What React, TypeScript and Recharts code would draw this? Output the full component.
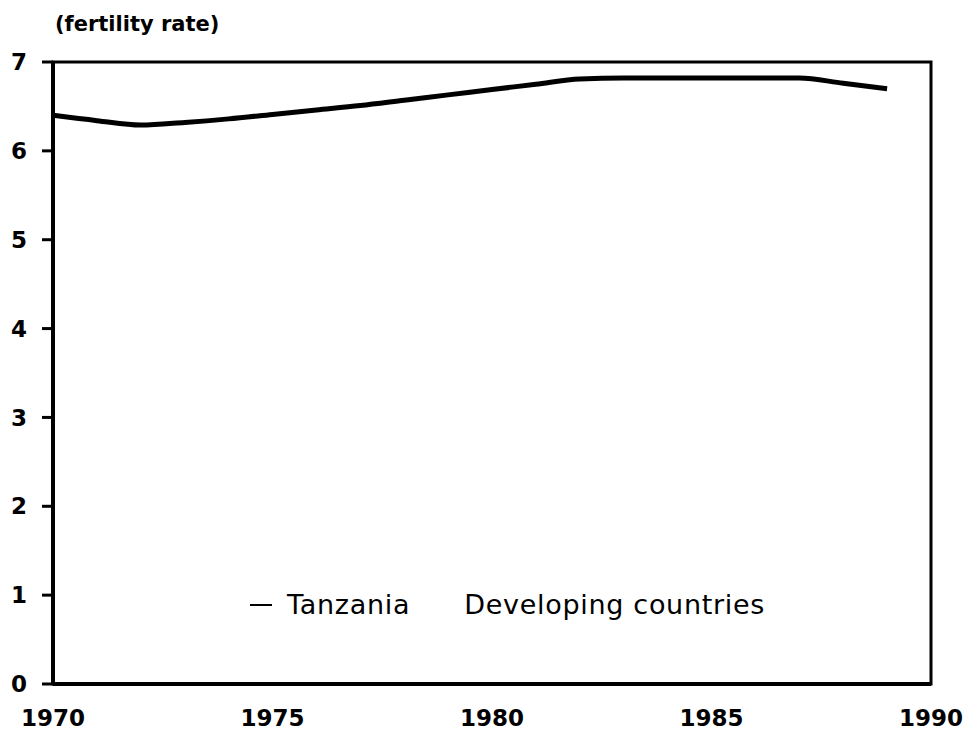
import { LineChart, Line, XAxis, YAxis, ReferenceArea, Legend } from "recharts";

document.body.style.margin = "0";

// years on the x axis
const years = [
  1970, 1971, 1972, 1973, 1974, 1975, 1976, 1977, 1978, 1979,
  1980, 1981, 1982, 1983, 1984, 1985, 1986, 1987, 1988, 1989,
];

// Tanzania total fertility rate
const tanzania = [
  6.4, 6.34, 6.29, 6.32, 6.36, 6.41, 6.46, 6.51, 6.57, 6.63,
  6.69, 6.75, 6.81, 6.82, 6.82, 6.82, 6.82, 6.82, 6.76, 6.7,
];

const xTicks = [1970, 1975, 1980, 1985, 1990];
const yTicks = [0, 1, 2, 3, 4, 5, 6, 7];
const seriesNames = ["Tanzania", "Developing countries"];

const data = years.map((year, i) => ({ year, tanzania: tanzania[i] }));

const FONT = "'DejaVu Sans', sans-serif";

const LegendContent = () => (
  <div
    style={{
      display: "flex",
      alignItems: "center",
      fontFamily: FONT,
      fontSize: 27,
      letterSpacing: 0.7,
      color: "#000",
      whiteSpace: "nowrap",
    }}
  >
    <span
      style={{
        display: "inline-block",
        width: 22,
        height: 2,
        background: "#000",
        marginRight: 15,
      }}
    />
    <span style={{ marginRight: 54 }}>{seriesNames[0]}</span>
    <span>{seriesNames[1]}</span>
  </div>
);

const tickStyle = { fill: "#000", fontSize: 23, fontWeight: "bold", fontFamily: FONT };

const App = () => {
  return (
    <div style={{ position: "relative", width: 968, height: 737, fontFamily: FONT }}>
      <div
        style={{
          position: "absolute",
          left: 55,
          top: 12,
          fontSize: 21,
          fontWeight: "bold",
          color: "#000",
        }}
      >
        (fertility rate)
      </div>
      <LineChart
        width={968}
        height={737}
        data={data}
        margin={{ top: 62, right: 37, left: 0, bottom: 0 }}
      >
        <XAxis
          dataKey="year"
          type="number"
          domain={[1970, 1990]}
          ticks={xTicks}
          height={53}
          tickLine={false}
          tickSize={0}
          tickMargin={26}
          axisLine={{ stroke: "#000", strokeWidth: 4 }}
          tick={tickStyle}
        />
        <YAxis
          domain={[0, 7]}
          ticks={yTicks}
          width={53}
          tickSize={11}
          tickMargin={15}
          tickLine={{ stroke: "#000", strokeWidth: 3 }}
          axisLine={{ stroke: "#000", strokeWidth: 4 }}
          tick={tickStyle}
        />
        <ReferenceArea
          x1={1970}
          x2={1990}
          y1={0}
          y2={7}
          fill="none"
          stroke="#000"
          strokeWidth={3}
          ifOverflow="visible"
        />
        <Line
          type="monotone"
          dataKey="tanzania"
          name="Tanzania"
          stroke="#000"
          strokeWidth={5}
          dot={false}
          isAnimationActive={false}
        />
        <Legend
          layout="horizontal"
          verticalAlign="middle"
          content={<LegendContent />}
          wrapperStyle={{ top: 589, left: 250, width: "auto" }}
        />
      </LineChart>
    </div>
  );
};

export default App;
